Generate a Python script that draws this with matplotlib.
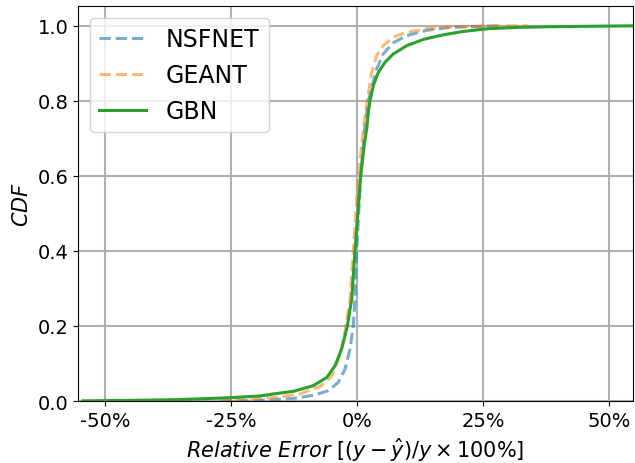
import matplotlib
matplotlib.use('Agg')
import matplotlib.pyplot as plt
import numpy as np

# CDF of the relative error (in %) for each topology
nsfnet_err = [-27.0, -22.0, -17.3, -12.6, -8.67, -5.7, -3.7, -2.38, -1.39, -0.73,
              -0.4, -0.07, 0.73, 1.5, 2.25, 3.9, 5.2, 7.2, 9.9, 13.8, 18.5, 28.0]
nsfnet_cdf = [0.0, 0.001, 0.0027, 0.007, 0.015, 0.0275, 0.05, 0.085, 0.139, 0.201,
              0.272, 0.4, 0.6, 0.725, 0.8, 0.885, 0.925, 0.955, 0.974, 0.988, 0.996, 1.0]

geant_err = [-27.6, -24.0, -19.2, -15.9, -11.3, -7.3, -5.0, -3.4, -2.4, -1.39,
             -0.73, 0.26, 1.26, 1.6, 2.05, 2.9, 3.9, 5.2, 7.2, 9.9, 13.8, 18.5, 25.0, 34.0]
geant_cdf = [0.0, 0.003, 0.007, 0.01, 0.019, 0.039, 0.067, 0.121, 0.183, 0.272,
             0.4, 0.6, 0.725, 0.761, 0.801, 0.876, 0.921, 0.947, 0.97, 0.983, 0.992, 0.997, 0.9995, 1.0]

gbn_err = [-54.4, -45.0, -36.0, -30.0, -25.2, -19.2, -16.5, -12.6, -8.67, -6.0,
           -4.37, -3.04, -1.92, -1.05, -0.4, 0.73, 1.5, 1.92, 2.25, 2.58, 3.24, 4.23,
           5.56, 7.2, 9.86, 13.2, 17.1, 21.1, 25.7, 32.0, 40.0, 54.6]
gbn_cdf = [0.0005, 0.0018, 0.0036, 0.0062, 0.009, 0.0135, 0.019, 0.026, 0.041, 0.063,
           0.094, 0.139, 0.2, 0.272, 0.401, 0.601, 0.69, 0.725, 0.77, 0.801, 0.841, 0.876,
           0.903, 0.925, 0.947, 0.964, 0.976, 0.985, 0.992, 0.996, 0.998, 1.0]

xticks = [-50, -25, 0, 25, 50]
xtick_labels = ['-50%', '-25%', '0%', '25%', '50%']

fig = plt.figure(figsize=(6.35, 4.64), dpi=100)
ax = fig.add_axes([0.1228, 0.1336, 0.8741, 0.8514])

ax.plot(nsfnet_err, nsfnet_cdf, '--', color='#1f77b4', alpha=0.6, lw=2.2, label='NSFNET')
ax.plot(geant_err, geant_cdf, '--', color='#ff7f0e', alpha=0.55, lw=2.2, label='GEANT')
ax.plot(gbn_err, gbn_cdf, '-', color='#2ca02c', lw=2.2, label='GBN')

ax.set_xlim(-55.4, 54.8)
ax.set_ylim(0, 1.053)
ax.set_xticks(xticks)
ax.set_xticklabels(xtick_labels)
ax.tick_params(labelsize=14)
ax.grid(True, color='#b0b0b0', lw=1.5)

ax.set_xlabel(r'$Relative\ Error\ [(y-\hat{y})/y \times 100\%]$', fontsize=15)
ax.set_ylabel('$CDF$', fontsize=15)
ax.legend(loc='upper left', fontsize=17)

fig.savefig('out.png', dpi=100)
